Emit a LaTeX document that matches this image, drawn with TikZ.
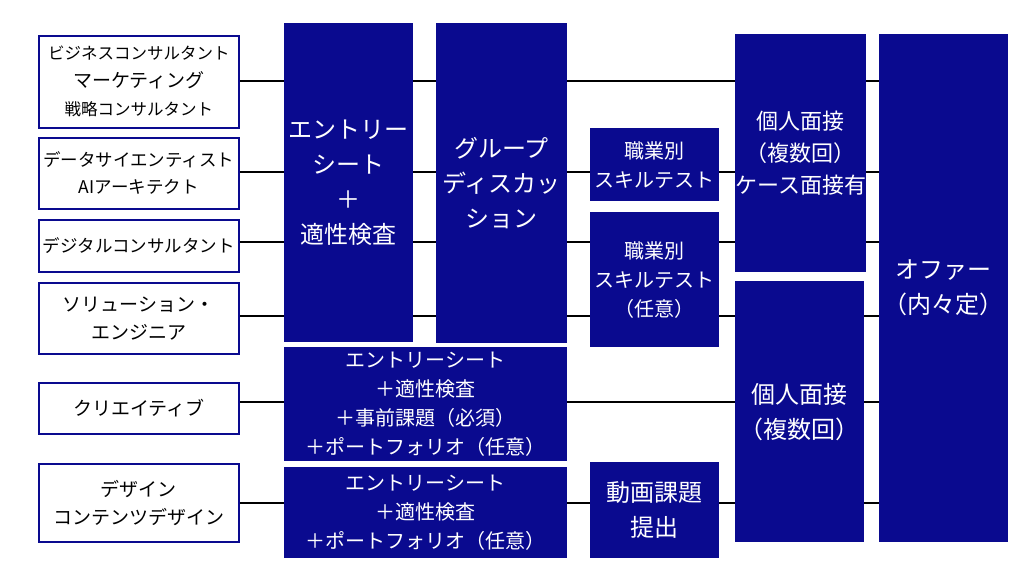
\documentclass[tikz,border=0pt]{standalone}
\usepackage{fontspec}
\setmainfont{Noto Sans CJK JP}
\usetikzlibrary{backgrounds}
\definecolor{navy}{RGB}{10,10,143}
\begin{document}
\begin{tikzpicture}[x=1pt,y=-1pt,
  job/.style={draw=navy,line width=1.5pt,fill=white,inner sep=0pt,anchor=north west,
    minimum width=200,align=center,font=\fontsize{19}{28}\selectfont},
  blk/.style={fill=navy,text=white,inner sep=0pt,anchor=north west,align=center,
    font=\fontsize{24}{35}\selectfont},
  sml/.style={blk,font=\fontsize{20}{29}\selectfont}]
\useasboundingbox (0,0) rectangle (1024,576);
% job types
\node[job,minimum height=92] (j1) at (38,35) {{\fontsize{16.5}{25}\selectfont ビジネスコンサルタント}\\マーケティング\\{\fontsize{16.5}{25}\selectfont 戦略コンサルタント}};
\node[job,minimum height=71,font=\fontsize{17.5}{27}\selectfont] (j2) at (38,137) {データサイエンティスト\\AIアーキテクト};
\node[job,minimum height=52,font=\fontsize{17.5}{27}\selectfont] (j3) at (38,219) {デジタルコンサルタント};
\node[job,minimum height=71] (j4) at (38,282) {ソリューション・\\エンジニア};
\node[job,minimum height=51] (j5) at (38,382) {クリエイティブ};
\node[job,minimum height=78] (j6) at (38,463) {デザイン\\コンテンツデザイン};
% steps
\node[blk,minimum width=129,minimum height=319] (es) at (284,23) {エントリー\\シート\\＋\\適性検査};
\node[blk,minimum width=131,minimum height=320] (gd) at (436,23) {グループ\\ディスカッ\\ション};
\node[sml,minimum width=283,minimum height=114] (es2) at (284,347) {エントリーシート\\＋適性検査\\＋事前課題（必須）\\＋ポートフォリオ（任意）};
\node[sml,minimum width=283,minimum height=91] (es3) at (284,467) {エントリーシート\\＋適性検査\\＋ポートフォリオ（任意）};
\node[sml,minimum width=129,minimum height=73] (sk1) at (590,128) {職業別\\スキルテスト};
\node[sml,minimum width=129,minimum height=135] (sk2) at (590,212) {職業別\\スキルテスト\\（任意）};
\node[blk,minimum width=129,minimum height=96] (mv) at (590,462) {動画課題\\提出};
\node[blk,minimum width=129,minimum height=238,font=\fontsize{22}{32}\selectfont] (iv1) at (735,34) {個人面接\\（複数回）\\ケース面接有};
\node[blk,minimum width=129,minimum height=261] (iv2) at (735,281) {個人面接\\（複数回）};
\node[blk,minimum width=129,minimum height=508] (of) at (879,34) {オファー\\（内々定）};
% flow lines
\begin{scope}[on background layer]
\foreach \n/\y in {1/81,2/172,3/242,4/316,5/402,6/503}{
  \coordinate (r\n) at (0,\y);
  \draw[line width=2pt] (j\n.east |- r\n) -- (of.west |- r\n);}
\end{scope}
\end{tikzpicture}
\end{document}
